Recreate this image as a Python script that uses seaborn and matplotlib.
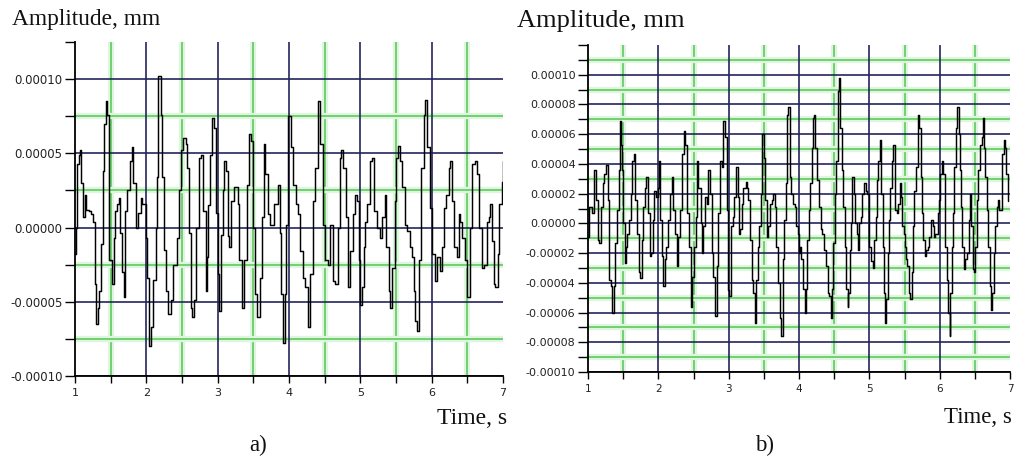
import matplotlib
matplotlib.use("Agg")
import matplotlib.pyplot as plt
import matplotlib.patheffects as pe
from matplotlib.ticker import FixedLocator, FuncFormatter, NullFormatter
import pandas as pd
import seaborn as sns

# ---------------- data (amplitudes in units of 1e-5 mm) ----------------
time_a = [1.00, 1.02, 1.03, 1.05, 1.07, 1.09, 1.11, 1.14, 1.16, 1.19, 1.22, 1.25, 1.28, 1.30, 1.32, 1.34,
          1.37, 1.39, 1.41, 1.43, 1.45, 1.48, 1.52, 1.54, 1.56, 1.59, 1.61, 1.63, 1.66, 1.68, 1.70, 1.73,
          1.77, 1.80, 1.82, 1.85, 1.88, 1.92, 1.94, 1.99, 2.01, 2.04, 2.06, 2.09, 2.13, 2.15, 2.17, 2.20,
          2.22, 2.25, 2.27, 2.31, 2.34, 2.38, 2.43, 2.46, 2.48, 2.51, 2.55, 2.57, 2.60, 2.62, 2.64, 2.67,
          2.70, 2.74, 2.76, 2.80, 2.83, 2.85, 2.87, 2.89, 2.92, 2.95, 2.98, 3.00, 3.02, 3.05, 3.07, 3.09,
          3.12, 3.14, 3.16, 3.19, 3.23, 3.28, 3.30, 3.34, 3.37, 3.41, 3.44, 3.47, 3.49, 3.52, 3.55, 3.59,
          3.62, 3.65, 3.67, 3.70, 3.74, 3.79, 3.84, 3.87, 3.89, 3.92, 3.94, 3.96, 3.99, 4.03, 4.05, 4.10,
          4.13, 4.16, 4.19, 4.22, 4.26, 4.30, 4.33, 4.36, 4.40, 4.44, 4.47, 4.51, 4.54, 4.58, 4.62, 4.64,
          4.68, 4.71, 4.73, 4.76, 4.80, 4.83, 4.86, 4.90, 4.92, 4.96, 4.98, 5.00, 5.03, 5.05, 5.07, 5.10,
          5.14, 5.16, 5.19, 5.23, 5.27, 5.30, 5.34, 5.36, 5.40, 5.42, 5.44, 5.48, 5.50, 5.53, 5.56, 5.58,
          5.62, 5.65, 5.69, 5.72, 5.75, 5.77, 5.79, 5.82, 5.85, 5.89, 5.91, 5.93, 5.97, 6.00, 6.04, 6.07,
          6.11, 6.14, 6.17, 6.20, 6.24, 6.26, 6.29, 6.32, 6.35, 6.38, 6.40, 6.43, 6.47, 6.50, 6.54, 6.57,
          6.61, 6.64, 6.67, 6.70, 6.73, 6.77, 6.80, 6.82, 6.85, 6.87, 6.89, 6.93, 6.95, 6.99, 7.00]
amp_a = [-1.8, 0.0, 4.3, 4.9, 5.2, 3.0, 0.7, 2.2, 1.2, 1.1, 0.9, 0.4, -3.8, -6.5, -5.4, -4.3,
         -1.1, 3.8, 7.0, 8.5, 7.6, -2.2, -3.8, -0.7, 1.1, 1.6, 2.0, -0.4, -3.0, -4.7, 1.1, 2.5,
         4.5, 5.4, 3.0, 0.0, 1.0, 2.0, 1.6, -0.7, -3.4, -8.0, -6.7, -3.5, 0.0, 3.4, 10.2, 7.6,
         3.4, -1.5, -4.3, -5.8, -4.9, -2.5, -0.7, 2.5, 5.2, 6.0, 5.6, 4.0, -0.4, -5.4, -6.0, -4.9,
         0.0, 4.7, 4.9, 1.1, -4.3, -2.0, 1.5, 4.9, 7.4, 6.7, 1.0, -3.1, -5.6, -0.5, 2.5, 4.5,
         3.8, -0.6, -1.3, 1.8, 2.7, 1.6, -2.2, -5.4, -2.2, 2.9, 6.3, 5.8, 0.0, -4.5, -6.0, -3.4,
         0.7, 5.6, 3.6, 0.9, 0.2, 1.6, 2.9, -0.4, -4.5, -7.8, -4.5, 0.2, 7.5, 5.4, 2.9, 1.6,
         0.9, -1.6, -3.4, -4.0, -6.7, -3.1, 1.8, 4.0, 8.5, 5.6, 0.2, -2.2, -2.5, 0.2, -3.6, -3.8,
         0.0, 4.7, 5.2, 4.0, 0.7, -4.0, -1.6, 0.9, 2.2, 1.8, -2.2, -5.2, -4.0, -1.3, 0.4, 1.6,
         4.5, 4.7, 1.1, 0.0, -0.7, 0.7, 2.2, -1.3, -4.3, -5.4, -2.7, 1.8, 4.7, 5.5, 4.5, 2.7,
         0.2, -0.2, -1.3, -2.0, -4.3, -6.3, -7.0, -2.2, 4.0, 7.6, 8.6, 5.4, 1.3, -1.8, -3.6, -2.0,
         -2.9, -1.3, 1.3, 2.2, 4.0, 4.5, 1.8, -1.3, -2.0, 0.9, 0.4, -0.7, -2.2, -4.7, 0.0, 4.3,
         4.5, 3.6, 0.0, -2.7, -2.5, 0.4, 0.7, 1.6, -0.9, -3.8, -4.0, -1.8, 1.6, 3.1, 4.5]

time_b = [1.00, 1.01, 1.03, 1.05, 1.08, 1.10, 1.12, 1.14, 1.16, 1.19, 1.21, 1.23, 1.26, 1.28, 1.30, 1.33,
          1.34, 1.37, 1.39, 1.41, 1.44, 1.45, 1.47, 1.48, 1.50, 1.53, 1.54, 1.56, 1.59, 1.61, 1.63, 1.65,
          1.67, 1.69, 1.72, 1.74, 1.77, 1.78, 1.81, 1.83, 1.85, 1.88, 1.90, 1.92, 1.94, 1.96, 1.99, 2.01,
          2.03, 2.05, 2.07, 2.09, 2.11, 2.14, 2.16, 2.19, 2.21, 2.23, 2.26, 2.28, 2.31, 2.34, 2.36, 2.38,
          2.41, 2.43, 2.46, 2.48, 2.50, 2.53, 2.55, 2.57, 2.60, 2.62, 2.64, 2.67, 2.69, 2.71, 2.74, 2.76,
          2.78, 2.81, 2.83, 2.85, 2.88, 2.90, 2.92, 2.95, 2.97, 2.99, 3.01, 3.03, 3.06, 3.08, 3.11, 3.13,
          3.14, 3.16, 3.19, 3.21, 3.24, 3.26, 3.28, 3.31, 3.33, 3.35, 3.37, 3.39, 3.41, 3.43, 3.46, 3.47,
          3.48, 3.50, 3.52, 3.54, 3.56, 3.59, 3.61, 3.63, 3.66, 3.68, 3.70, 3.73, 3.74, 3.77, 3.79, 3.81,
          3.83, 3.85, 3.87, 3.89, 3.92, 3.94, 3.96, 3.99, 4.00, 4.02, 4.03, 4.06, 4.08, 4.10, 4.11, 4.14,
          4.16, 4.18, 4.20, 4.22, 4.23, 4.26, 4.28, 4.31, 4.33, 4.35, 4.38, 4.39, 4.41, 4.43, 4.45, 4.47,
          4.49, 4.51, 4.53, 4.55, 4.56, 4.57, 4.59, 4.61, 4.63, 4.65, 4.67, 4.69, 4.70, 4.72, 4.74, 4.76,
          4.78, 4.80, 4.82, 4.84, 4.86, 4.88, 4.90, 4.93, 4.95, 4.97, 4.99, 5.02, 5.05, 5.07, 5.09, 5.11,
          5.13, 5.15, 5.17, 5.19, 5.21, 5.22, 5.24, 5.26, 5.28, 5.30, 5.32, 5.34, 5.36, 5.37, 5.39, 5.41,
          5.43, 5.45, 5.47, 5.49, 5.50, 5.52, 5.54, 5.56, 5.58, 5.60, 5.62, 5.64, 5.66, 5.69, 5.71, 5.73,
          5.75, 5.77, 5.79, 5.80, 5.83, 5.85, 5.87, 5.90, 5.92, 5.94, 5.97, 5.99, 6.01, 6.03, 6.05, 6.07,
          6.08, 6.10, 6.12, 6.14, 6.15, 6.17, 6.19, 6.21, 6.23, 6.25, 6.27, 6.29, 6.30, 6.32, 6.34, 6.36,
          6.39, 6.41, 6.43, 6.45, 6.47, 6.49, 6.50, 6.53, 6.55, 6.57, 6.60, 6.62, 6.63, 6.65, 6.67, 6.69,
          6.71, 6.73, 6.75, 6.77, 6.79, 6.81, 6.83, 6.85, 6.88, 6.89, 6.91, 6.93, 6.95, 6.97]
amp_b = [-0.9, 1.1, 1.1, 0.7, 3.6, 3.6, 1.6, -1.1, -1.3, 1.1, 2.7, 3.3, 3.9, 1.6, -3.8, -4.2,
         -6.0, -4.2, -1.3, 0.9, 3.6, 6.9, 5.3, 3.6, 0.0, -2.7, -1.6, -0.7, 0.2, 2.0, 4.2, 4.7,
         1.6, -0.7, -3.3, -3.7, -1.1, 1.1, 2.4, 3.1, 0.7, -2.2, -2.0, 0.2, 2.2, 1.8, 2.4, 4.2,
         0.2, -2.2, -4.2, -2.4, -1.6, 0.2, 2.0, 3.1, 0.9, -0.7, -2.9, -0.9, 0.9, 4.7, 6.2, 5.3,
         0.7, -1.6, -5.6, -3.6, -1.6, 0.4, 4.2, 2.4, 0.0, -2.0, -0.2, 1.8, 1.3, 3.6, 2.0, -2.0,
         -3.6, -6.2, -2.9, 0.7, 4.2, 3.8, 6.9, 5.8, 0.9, -4.5, -4.9, -0.2, 0.4, 1.8, 3.8, 1.8,
         -0.7, -0.4, 1.3, 2.4, 2.8, 2.4, 1.6, -1.1, -3.8, -4.7, -6.7, -3.8, -1.6, -0.2, 2.0, 5.8,
         6.0, 4.4, 1.6, -0.9, -0.2, 1.3, 1.6, 2.0, 1.1, -1.6, -4.0, -6.4, -7.6, -2.4, 0.2, 2.7,
         7.3, 7.8, 3.1, 2.0, 1.3, 1.1, -0.2, -0.7, -2.0, -1.6, -2.4, -4.4, -6.0, -4.4, -1.1, 0.9,
         2.7, 5.1, 7.1, 7.3, 5.1, 2.9, 1.1, -0.4, -0.7, -1.8, -2.4, -2.9, -4.7, -4.9, -6.4, -4.4,
         -1.3, 2.0, 4.2, 6.4, 8.9, 9.8, 6.4, 3.6, 1.1, -1.6, -4.4, -5.6, -4.7, -1.8, 0.0, 3.1,
         2.0, 0.0, -0.7, -1.8, 0.0, 0.4, 2.0, 2.7, 2.2, 2.0, -1.6, -2.5, -3.0, -1.1, 0.4, 2.9,
         4.2, 5.6, 2.0, -1.6, -4.7, -6.7, -5.1, -2.0, 0.2, 2.4, 4.2, 5.3, 3.3, 0.9, 0.7, 1.3,
         2.7, 1.8, -0.2, -0.7, -1.6, -2.4, -2.9, -4.7, -5.1, -3.3, -0.2, 2.2, 3.8, 7.3, 6.4, 3.1,
         0.7, -1.1, -2.2, -1.8, -1.6, -0.9, 0.2, -0.2, -0.9, -0.7, 0.7, 1.6, 3.3, 4.2, 3.3, 1.1,
         -1.6, -3.8, -6.0, -7.6, -4.7, -1.6, 0.7, 3.8, 6.4, 7.8, 6.0, 3.6, 1.1, -1.6, -3.1, -2.4,
         -2.0, 0.2, 2.0, -0.2, -3.1, -3.3, -1.6, 1.6, 3.6, 5.3, 5.8, 7.1, 5.1, 3.1, 0.9, -1.6,
         -4.2, -5.8, -4.7, -2.0, -0.2, 1.1, 1.6, 0.9, 2.9, 4.7, 5.6, 5.1, 3.3, 1.5]

AMP_UNIT = 1e-5
x_major = [1, 2, 3, 4, 5, 6, 7]
x_minor = [1.5, 2.5, 3.5, 4.5, 5.5, 6.5]
x_labels = ["1", "2", "3", "4", "5", "6", "7"]
ya_major = [-10, -5, 0, 5, 10]
ya_minor = [-7.5, -2.5, 2.5, 7.5, 12.5]
ya_lim = (-10, 12.5)
yb_major = [-10, -8, -6, -4, -2, 0, 2, 4, 6, 8, 10]
yb_minor = [-9, -7, -5, -3, -1, 1, 3, 5, 7, 9, 11, 12]
yb_lim = (-10, 12)
y_title = "Amplitude, mm"
x_title = "Time, s"
panel_tags = ["a)", "b)"]

# ---------------- styling ----------------
sns.set_theme(style="white")
plt.rcParams["font.family"] = ["DejaVu Sans"]
NAVY = "#25255c"
GREEN = "#5ccb5c"
GLOW = "#e0f5e0"
SERIF = "Liberation Serif"

W, H = 1021, 457
fig = plt.figure(figsize=(W / 100, H / 100), dpi=100)
fig.patch.set_facecolor("white")


def px_rect(l, r, t, b):
    return [l / W, 1 - b / H, (r - l) / W, (b - t) / H]


def set_scales(ax, ymaj, ymin, ylim):
    ax.set_xlim(1, 7)
    ax.set_ylim(ylim[0] * AMP_UNIT, ylim[1] * AMP_UNIT)
    ax.xaxis.set_major_locator(FixedLocator(x_major))
    ax.xaxis.set_minor_locator(FixedLocator(x_minor))
    ax.yaxis.set_major_locator(FixedLocator([v * AMP_UNIT for v in ymaj]))
    ax.yaxis.set_minor_locator(FixedLocator([v * AMP_UNIT for v in ymin]))


def make_panel(rect, times, amps, ymaj, ymin, ylim, lab_size):
    # background axes: green (minor) grid only
    bg = fig.add_axes(rect, zorder=0)
    set_scales(bg, ymaj, ymin, ylim)
    bg.grid(which="major", visible=False)
    bg.grid(which="minor", color=GREEN, lw=1.2)
    for tk in bg.xaxis.get_minor_ticks() + bg.yaxis.get_minor_ticks():
        tk.gridline.set_path_effects([pe.Stroke(linewidth=4.5, foreground=GLOW), pe.Normal()])
    bg.yaxis.get_minor_ticks()[-1].gridline.set_visible(False)
    bg.tick_params(which="both", left=False, bottom=False, labelleft=False, labelbottom=False)
    for s in bg.spines.values():
        s.set_visible(False)
    bg.set_facecolor("white")

    # main axes: navy (major) grid, ticks, signal
    ax = fig.add_axes(rect, zorder=1)
    set_scales(ax, ymaj, ymin, ylim)
    ax.set_facecolor("none")
    ax.xaxis.set_major_formatter(FuncFormatter(lambda v, p: x_labels[int(round(v)) - 1]))
    ax.yaxis.set_major_formatter(FuncFormatter(lambda v, p: f"{v:.5f}" if abs(v) > 1e-12 else "0.00000"))
    ax.yaxis.set_minor_formatter(NullFormatter())
    ax.grid(which="major", color=NAVY, lw=1.2)
    ax.grid(which="minor", visible=False)
    ax.xaxis.get_major_ticks()[-1].gridline.set_visible(False)
    ax.xaxis.get_major_ticks()[0].gridline.set_visible(False)

    df = pd.DataFrame({"t": times, "a": [v * AMP_UNIT for v in amps]})
    sns.lineplot(data=df, x="t", y="a", ax=ax, color="black", lw=1.05,
                 drawstyle="steps-post", estimator=None, sort=False, zorder=5)
    ax.set_xlabel("")
    ax.set_ylabel("")
    set_scales(ax, ymaj, ymin, ylim)
    for s in ["top", "right"]:
        ax.spines[s].set_visible(False)
    for s in ["left", "bottom"]:
        ax.spines[s].set_color("black")
        ax.spines[s].set_linewidth(1.3)
        ax.spines[s].set_zorder(6)
    ax.tick_params(axis="y", which="both", direction="out", left=True, length=7, width=1.0,
                   color="black", pad=2, labelsize=lab_size, labelcolor="#222222")
    ax.tick_params(axis="x", which="both", direction="out", bottom=True, length=5, width=1.0,
                   color="black", pad=4, labelsize=lab_size - 0.5, labelcolor="#222222")
    return ax


ax_a = make_panel(px_rect(75, 503, 42, 376), time_a, amp_a, ya_major, ya_minor, ya_lim, 8.5)
ax_b = make_panel(px_rect(588, 1010, 45, 372), time_b, amp_b, yb_major, yb_minor, yb_lim, 8.0)

# ---------------- texts ----------------
def ftxt(x, y, s, size, ha="left"):
    fig.text(x / W, 1 - y / H, s, ha=ha, va="baseline", fontsize=size,
             family=[SERIF, "DejaVu Serif"], color="#111111")

ftxt(12, 25, y_title, 16.8)
ftxt(517, 27, y_title, 19)
ftxt(507, 424, x_title, 17, ha="right")
ftxt(1012, 423, x_title, 16.5, ha="right")
ftxt(258, 451, panel_tags[0], 16.5, ha="center")
ftxt(765, 451, panel_tags[1], 16.5, ha="center")

fig.savefig("out.png", dpi=100, facecolor="white")
